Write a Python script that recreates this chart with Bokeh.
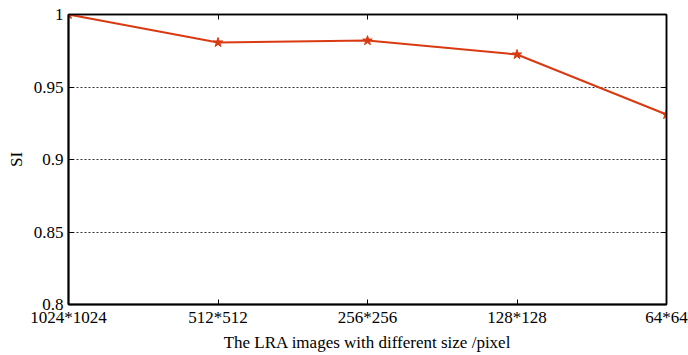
from bokeh.plotting import figure
from bokeh.models import LinearAxis, FixedTicker, Range1d
from bokeh.embed import file_html
from bokeh.resources import INLINE

categories = ["1024*1024", "512*512", "256*256", "128*128", "64*64"]
si_values = [1.0, 0.9807, 0.982, 0.9724, 0.931]
y_ticks = [0.8, 0.85, 0.9, 0.95, 1.0]
y_tick_labels = ["0.8", "0.85", "0.9", "0.95", "1"]

x_pos = list(range(len(categories)))

FONT = "Liberation Serif"
COLOR = "#d93a12"

p = figure(width=688, height=355, output_backend="svg", toolbar_location=None,
           x_range=Range1d(0, len(categories) - 1), y_range=Range1d(0.8, 1.0),
           min_border_left=68, min_border_right=22, min_border_top=14, min_border_bottom=51)

p.line(x_pos, si_values, line_color=COLOR, line_width=2)
p.scatter(x_pos, si_values, marker="star", size=10, fill_color=COLOR, line_color=COLOR)

p.outline_line_color = "black"
p.outline_line_width = 1.5
p.background_fill_color = "white"
p.border_fill_color = "white"

xt = FixedTicker(ticks=x_pos)
yt = FixedTicker(ticks=y_ticks)

p.xaxis.ticker = xt
p.xaxis.major_label_overrides = {i: c for i, c in enumerate(categories)}
p.yaxis.ticker = yt
p.yaxis.major_label_overrides = {v: l for v, l in zip(y_ticks, y_tick_labels)}

for ax in (p.xaxis[0], p.yaxis[0]):
    ax.axis_line_width = 2
    ax.axis_line_color = "black"
    ax.major_tick_in = 5
    ax.major_tick_out = 0
    ax.minor_tick_line_color = None
    ax.major_tick_line_color = "black"
    ax.major_label_text_font = FONT
    ax.major_label_text_font_size = "17px"
    ax.major_label_text_color = "black"
    ax.axis_label_text_font = FONT
    ax.axis_label_text_font_size = "17px"
    ax.axis_label_text_font_style = "normal"
    ax.axis_label_text_color = "black"

p.xaxis.axis_label = "The LRA images with different size /pixel"
p.yaxis.axis_label = "SI"
p.xaxis.major_label_standoff = 3
p.yaxis.major_label_standoff = 5
p.xaxis.axis_label_standoff = 3
p.yaxis.axis_label_standoff = 5

top = LinearAxis(ticker=FixedTicker(ticks=x_pos), major_label_text_color=None,
                 major_tick_in=5, major_tick_out=0, minor_tick_line_color=None,
                 axis_line_color="black", axis_line_width=1.5)
right = LinearAxis(ticker=FixedTicker(ticks=y_ticks), major_label_text_color=None,
                   major_tick_in=5, major_tick_out=0, minor_tick_line_color=None,
                   axis_line_color="black", axis_line_width=1.5)
p.add_layout(top, "above")
p.add_layout(right, "right")

p.xgrid.grid_line_color = None
p.ygrid.ticker = FixedTicker(ticks=[0.85, 0.9, 0.95])
p.ygrid.grid_line_color = "#333333"
p.ygrid.grid_line_dash = "2 2"
p.ygrid.grid_line_width = 1

open("out.html", "w").write(file_html(p, INLINE))
